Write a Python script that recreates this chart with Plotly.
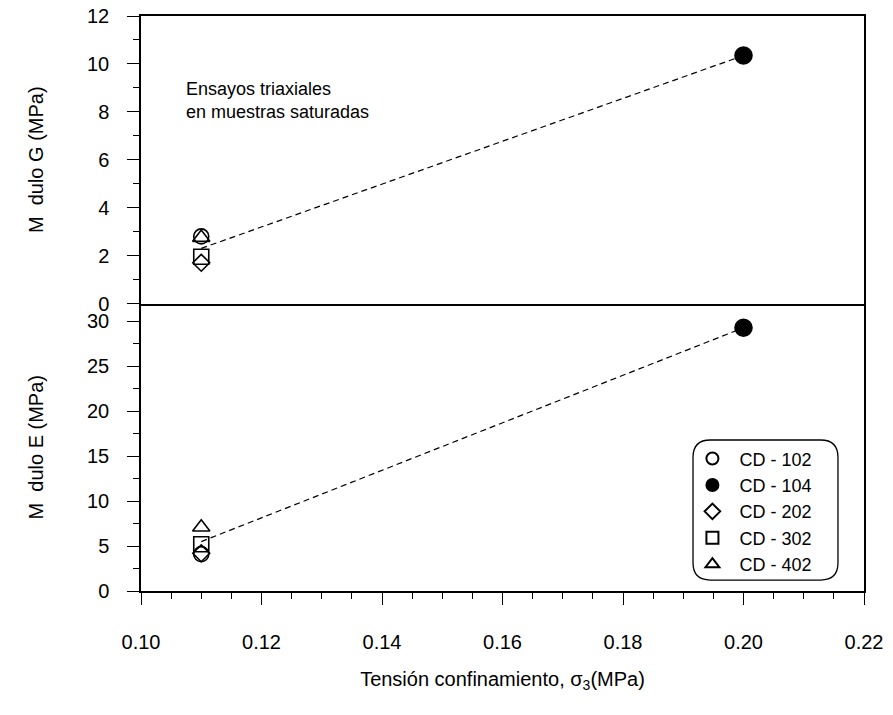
import plotly.graph_objects as go

# ---- data ----
tests = ["CD - 102", "CD - 104", "CD - 202", "CD - 302", "CD - 402"]
sigma3 = [0.11, 0.20, 0.11, 0.11, 0.11]
mod_G = [2.8, 10.35, 1.7, 1.95, 2.75]
mod_E = [4.1, 29.3, 4.2, 5.2, 7.1]
symbols = ["circle-open", "circle", "diamond-open", "square-open", "triangle-up-open"]
sizes = [15, 17, 13, 15, 15]

fit_x = [0.11, 0.20]
fit_G = [2.3, 10.35]
fit_E = [5.5, 29.3]

FONT = "Liberation Sans, Arial, sans-serif"

fig = go.Figure()

fig.add_trace(go.Scatter(x=fit_x, y=fit_E, mode="lines", showlegend=False,
                         line=dict(color="black", width=1.2, dash="6px,4px"),
                         xaxis="x", yaxis="y"))
fig.add_trace(go.Scatter(x=fit_x, y=fit_G, mode="lines", showlegend=False,
                         line=dict(color="black", width=1.2, dash="6px,4px"),
                         xaxis="x2", yaxis="y2"))

for name, x, g, e, sym, sz in zip(tests, sigma3, mod_G, mod_E, symbols, sizes):
    mk = dict(symbol=sym, size=sz, color="black", line=dict(color="black", width=1.6))
    fig.add_trace(go.Scatter(x=[x], y=[e], mode="markers", name=name, marker=mk,
                             xaxis="x", yaxis="y", legendgroup=name))
    fig.add_trace(go.Scatter(x=[x], y=[g], mode="markers", name=name, marker=mk,
                             xaxis="x2", yaxis="y2", legendgroup=name, showlegend=False))

axis_common = dict(showline=True, linecolor="black", linewidth=1.5, automargin=False,
                   showgrid=False, zeroline=False, ticks="outside", tickcolor="black",
                   tickfont=dict(family=FONT, size=20, color="black"))

fig.update_layout(
    width=893, height=715,
    margin=dict(l=141, r=29, t=16, b=124),
    paper_bgcolor="white", plot_bgcolor="white",
    font=dict(family=FONT, size=20, color="black"),
    xaxis=dict(axis_common, mirror=False, range=[0.10, 0.22], dtick=0.02, tick0=0.10,
               tickformat=".2f", ticklen=12, tickwidth=1.3, anchor="y", ticklabelstandoff=20,
               minor=dict(dtick=0.005, ticks="outside", ticklen=6, tickcolor="black", tickwidth=1.2),
               title=dict(text="Tensión confinamiento, σ<sub>3</sub>(MPa)",
                          font=dict(family=FONT, size=20), standoff=20)),
    xaxis2=dict(axis_common, mirror=True, range=[0.10, 0.22], matches="x", anchor="y2",
                showticklabels=False, ticks=""),
    yaxis=dict(axis_common, mirror=True, domain=[0, 0.5], range=[0, 32], dtick=5, tick0=0,
               ticklen=12, tickwidth=1.3, anchor="x", ticklabelstandoff=14,
               minor=dict(dtick=2.5, ticks="outside", ticklen=6, tickcolor="black", tickwidth=1.2),
               title=dict(text="M\u00a0\u00a0dulo E (MPa)", font=dict(family=FONT, size=20), standoff=38)),
    yaxis2=dict(axis_common, mirror=True, domain=[0.5, 1], range=[0, 12], dtick=2, tick0=0,
                ticklen=12, tickwidth=1.3, anchor="x2", ticklabelstandoff=14,
                minor=dict(dtick=1, ticks="outside", ticklen=6, tickcolor="black", tickwidth=1.2),
                title=dict(text="M\u00a0\u00a0dulo G (MPa)", font=dict(family=FONT, size=20), standoff=38)),
    legend=dict(x=0.753, y=0.262, xanchor="left", yanchor="top",
                bgcolor="rgba(0,0,0,0)", borderwidth=0,
                font=dict(family=FONT, size=18, color="black"),
                itemsizing="constant", tracegroupgap=0, itemwidth=44),
    showlegend=True,
)

# rounded legend frame
x0, x1 = 0.7635, 0.964
y0, y1 = 0.019, 0.2626
rx, ry = 0.024, 0.03
path = (f"M {x0+rx},{y1} L {x1-rx},{y1} Q {x1},{y1} {x1},{y1-ry} "
        f"L {x1},{y0+ry} Q {x1},{y0} {x1-rx},{y0} L {x0+rx},{y0} "
        f"Q {x0},{y0} {x0},{y0+ry} L {x0},{y1-ry} Q {x0},{y1} {x0+rx},{y1} Z")
fig.add_shape(type="path", path=path, xref="paper", yref="paper",
              line=dict(color="black", width=1.3), fillcolor="rgba(0,0,0,0)")

fig.add_annotation(text="Ensayos triaxiales<br>en muestras saturadas",
                   xref="paper", yref="paper", x=0.059, y=0.894,
                   xanchor="left", yanchor="top", align="left", showarrow=False,
                   font=dict(family=FONT, size=18, color="black"))

fig.write_html("out.html")
